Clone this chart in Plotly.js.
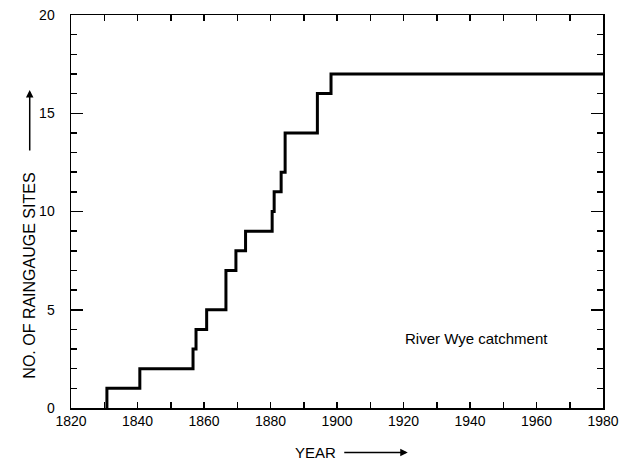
<!DOCTYPE html>
<html>
<head>
<meta charset="utf-8">
<script src="https://cdn.plot.ly/plotly-3.0.1.min.js"></script>
<style>html,body{margin:0;padding:0;background:#fff;}#chart{width:627px;height:460px;}</style>
</head>
<body>
<div id="chart"></div>
<script>
// Years at which the number of raingauge sites changed, and the count after each change
const stepYears = [1830.8, 1840.7, 1856.7, 1857.6, 1860.8, 1866.6, 1869.6, 1872.5, 1880.5, 1881.1, 1883.2, 1884.4, 1894.1, 1898.2];
const siteCounts = [1, 2, 3, 4, 5, 7, 8, 9, 10, 11, 12, 14, 16, 17];
const endYear = 1980;
const xTickVals = [1820, 1840, 1860, 1880, 1900, 1920, 1940, 1960, 1980];
const yTickVals = [0, 5, 10, 15, 20];

const xs = [stepYears[0]].concat(stepYears, [endYear]);
const ys = [0].concat(siteCounts, [siteCounts[siteCounts.length - 1]]);

const FONT = 'Liberation Sans, Arial, Helvetica, sans-serif';

const trace = {
  x: xs, y: ys, type: 'scatter', mode: 'lines',
  line: {shape: 'hv', color: '#000', width: 3},
  hoverinfo: 'skip', showlegend: false
};

const layout = {
  width: 627, height: 460,
  margin: {l: 71, r: 24, t: 15, b: 52},
  paper_bgcolor: '#fff', plot_bgcolor: '#fff',
  font: {family: FONT, size: 14, color: '#000'},
  xaxis: {
    range: [1820, 1980], tickvals: xTickVals, ticktext: xTickVals.map(String),
    ticks: 'inside', ticklen: 6, tickwidth: 1.5, tickcolor: '#000',
    minor: {dtick: 10, tick0: 1820, ticks: 'inside', ticklen: 6, tickwidth: 1.5, tickcolor: '#000', showgrid: false},
    showline: true, linecolor: '#000', linewidth: 1.5, mirror: 'ticks',
    showgrid: false, zeroline: false, tickfont: {family: FONT, size: 14, color: '#000'},
    fixedrange: true
  },
  yaxis: {
    range: [0, 20], tickvals: yTickVals, ticktext: yTickVals.map(String),
    ticks: 'inside', ticklen: 12, tickwidth: 1.5, tickcolor: '#000',
    minor: {dtick: 1, tick0: 0, ticks: 'inside', ticklen: 6, tickwidth: 1.5, tickcolor: '#000', showgrid: false},
    showline: true, linecolor: '#000', linewidth: 1.5, mirror: 'ticks',
    showgrid: false, zeroline: false, tickfont: {family: FONT, size: 14, color: '#000'},
    ticklabelstandoff: 12, fixedrange: true
  },
  annotations: [
    {text: 'River Wye catchment', x: 1942, y: 3.56, xref: 'x', yref: 'y', showarrow: false,
     xanchor: 'center', yanchor: 'middle',
     font: {family: FONT, size: 15, color: '#000'}},
    {text: 'NO. OF RAINGAUGE SITES', xref: 'paper', yref: 'paper', x: -0.0776, y: 0.336,
     xanchor: 'center', yanchor: 'middle',
     textangle: -90, showarrow: false, font: {family: FONT, size: 16, color: '#000'}},
    {text: '', xref: 'paper', yref: 'paper', x: -0.0776, y: 0.809, ax: 0, ay: 62,
     showarrow: true, arrowhead: 2, arrowsize: 1, arrowwidth: 1.5, arrowcolor: '#000'},
    {text: 'YEAR', xref: 'paper', yref: 'paper', x: 0.459, y: -0.113,
     xanchor: 'center', yanchor: 'middle',
     showarrow: false, font: {family: FONT, size: 15, color: '#000'}},
    {text: '', xref: 'paper', yref: 'paper', x: 0.633, y: -0.113, ax: -65, ay: 0,
     showarrow: true, arrowhead: 2, arrowsize: 1, arrowwidth: 1.5, arrowcolor: '#000'}
  ]
};

Plotly.newPlot('chart', [trace], layout, {displayModeBar: false, staticPlot: true});
</script>
</body>
</html>
